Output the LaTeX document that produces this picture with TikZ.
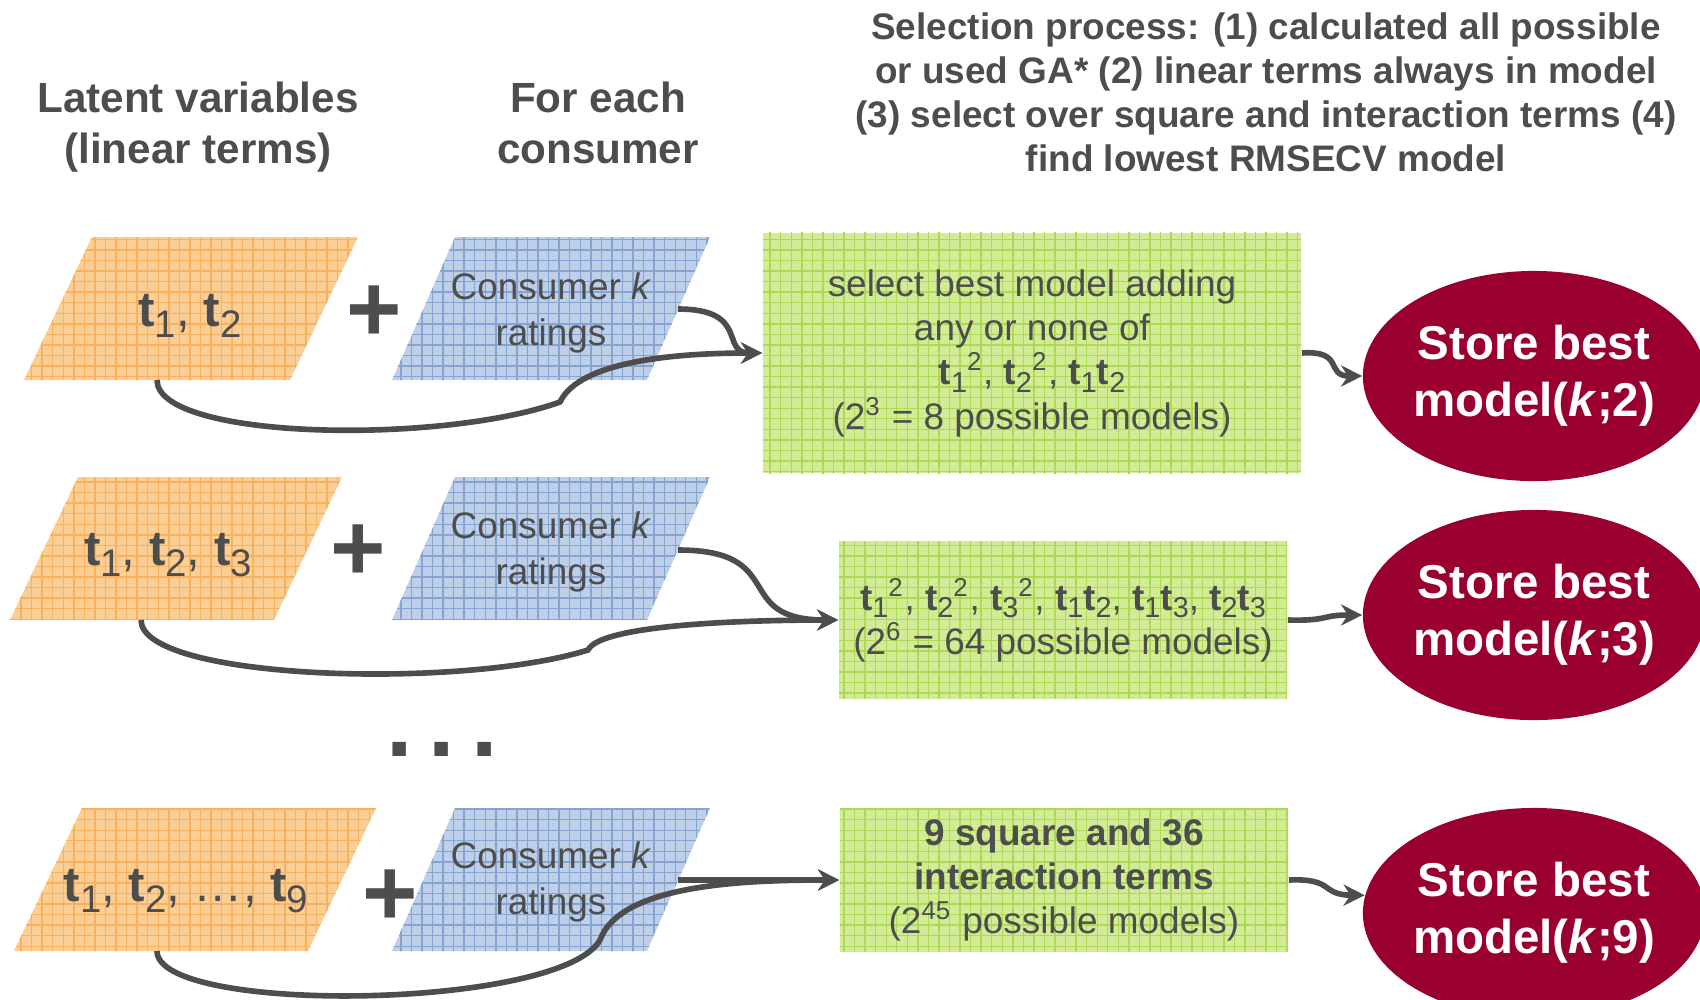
\documentclass[tikz,border=0pt]{standalone}
\usepackage{fontspec}
\setmainfont{Liberation Sans}
\usetikzlibrary{shapes.geometric,patterns,arrows.meta}

\definecolor{textgray}{RGB}{77,77,77}
\definecolor{orangebg}{RGB}{251,206,150}
\definecolor{orangeline}{RGB}{248,178,95}
\definecolor{bluebg}{RGB}{190,207,233}
\definecolor{blueline}{RGB}{135,163,208}
\definecolor{greenbg}{RGB}{210,236,150}
\definecolor{greenline}{RGB}{176,216,88}
\definecolor{storered}{RGB}{153,0,48}

\newcommand{\tvar}[1]{\textbf{t}\raisebox{-0.4ex}{\scalebox{0.78}{#1}}}

\tikzset{
  head/.style={text=textgray, align=center, font=\fontsize{12}{14.5}\selectfont\bfseries},
  latent/.style={fill=orangebg, postaction={pattern=grid, pattern color=orangeline}},
  ratings/.style={fill=bluebg, postaction={pattern=grid, pattern color=blueline}},
  lvtext/.style={text=textgray, font=\fontsize{14}{16}\selectfont},
  ratetext/.style={text=textgray, align=center, font=\fontsize{10.5}{12.9}\selectfont},
  plus/.style={text=textgray, inner sep=0pt, font=\fontsize{27}{30}\selectfont\bfseries},
  selectbox/.style={fill=greenbg, postaction={pattern=grid, pattern color=greenline},
    inner sep=0pt, align=center, text=textgray, font=\fontsize{10.5}{12.6}\selectfont},
  store/.style={ellipse, fill=storered, text=white, align=center, inner sep=0pt,
    minimum width=3.32cm, minimum height=2.1cm, font=\fontsize{13.5}{16.3}\selectfont\bfseries},
  conn/.style={draw=textgray, line width=1.6pt, -{Stealth[length=6pt,width=6pt]}},
}

\begin{document}
\begin{tikzpicture}[x=0.01cm, y=-0.01cm]
    \useasboundingbox (0,0) rectangle (1700,999);

    % draw headings
    \node[head] (latenthead) at (198,127) {Latent variables\\(linear terms)};
    \node[head] (consumerhead) at (598,123) {For each\\consumer};
    \node[head, font=\fontsize{10.5}{12.5}\selectfont\bfseries] (selecthead) at (1266,92)
      {Selection process: (1) calculated all possible\\or used GA* (2) linear terms always in model\\(3) select over square and interaction terms (4)\\find lowest RMSECV model};

    % draw parallelograms
    \foreach \ytop/\lx/\rx in {237/92/358, 477/78/342, 808/82/376}
    {
      \fill[latent] (\lx,\ytop) -- (\rx,\ytop) -- (\rx-68,\ytop+143) -- (\lx-68,\ytop+143) -- cycle;
      \fill[ratings] (455,\ytop) -- (710,\ytop) -- (647,\ytop+143) -- (392,\ytop+143) -- cycle;
    }

    % draw texts in parallelograms
    \node[lvtext] (lv1) at (190,316) {\tvar{1}, \tvar{2}};
    \node[lvtext] (lv2) at (168,555) {\tvar{1}, \tvar{2}, \tvar{3}};
    \node[lvtext] (lv3) at (186,891) {\tvar{1}, \tvar{2}, …, \tvar{9}};
    \node[ratetext] (cr1) at (551,313) {Consumer \textit{k}\\ratings};
    \node[ratetext] (cr2) at (551,552) {Consumer \textit{k}\\ratings};
    \node[ratetext] (cr3) at (551,882) {Consumer \textit{k}\\ratings};

    % draw plus signs and dots
    \node[plus] (plus1) at (374,314) {+};
    \node[plus] (plus2) at (358,553) {+};
    \node[plus] (plus3) at (390,898) {+};
    \node[plus] (dots) at (442,749) {.\hspace{4.6pt}.\hspace{4.6pt}.};

    % draw selection boxes
    \node[selectbox, minimum width=5.38cm, minimum height=2.4cm] (sel1) at (1032,353)
      {select best model adding\\any or none of\\\tvar{1}\textsuperscript{2}, \tvar{2}\textsuperscript{2}, \tvar{1}\tvar{2}\\(2\textsuperscript{3} = 8 possible models)};
    \node[selectbox, minimum width=4.48cm, minimum height=1.57cm] (sel2) at (1063,620)
      {\tvar{1}\textsuperscript{2}, \tvar{2}\textsuperscript{2}, \tvar{3}\textsuperscript{2}, \tvar{1}\tvar{2}, \tvar{1}\tvar{3}, \tvar{2}\tvar{3}\\(2\textsuperscript{6} = 64 possible models)};
    \node[selectbox, minimum width=4.48cm, minimum height=1.43cm] (sel3) at (1064,880)
      {\textbf{9 square and 36}\\\textbf{interaction terms}\\(2\textsuperscript{45} possible models)};

    % draw stored models
    \node[store] (store1) at (1534,376) {Store best\\model(\textit{k};2)};
    \node[store] (store2) at (1534,615) {Store best\\model(\textit{k};3)};
    \node[store] (store3) at (1534,913) {Store best\\model(\textit{k};9)};

    % connector end points
    \coordinate (lat1) at (157,380);
    \coordinate (lat2) at (141,620);
    \coordinate (lat3) at (157,951);
    \coordinate (rate1) at (678,309);
    \coordinate (rate2) at (678,550);
    \coordinate (rate3) at (678,880);

    % draw connectors
    \draw[conn] (rate1) .. controls (750,309) and (720,353) .. (sel1.west);
    \draw[conn] (lat1) .. controls (157,440) and (440,445) .. (560,402)
      .. controls (580,360) and (680,353) .. (sel1.west);
    \draw[conn] (rate2) .. controls (790,550) and (730,620) .. (sel2.west);
    \draw[conn] (lat2) .. controls (141,680) and (460,690) .. (588,650)
      .. controls (600,625) and (740,620) .. (sel2.west);
    \draw[conn] (rate3) -- (sel3.west);
    \draw[conn] (lat3) .. controls (157,1015) and (560,1010) .. (600,940)
      .. controls (620,885) and (740,880) .. (sel3.west);

    \draw[conn] (sel1.east) .. controls (1345,350) and (1325,376) .. (store1.west);
    \draw[conn] (sel2.east) .. controls (1330,621) and (1320,615) .. (store2.west);
    \draw[conn] (sel3.east) .. controls (1335,878) and (1320,895) .. (store3.174);
\end{tikzpicture}
\end{document}
